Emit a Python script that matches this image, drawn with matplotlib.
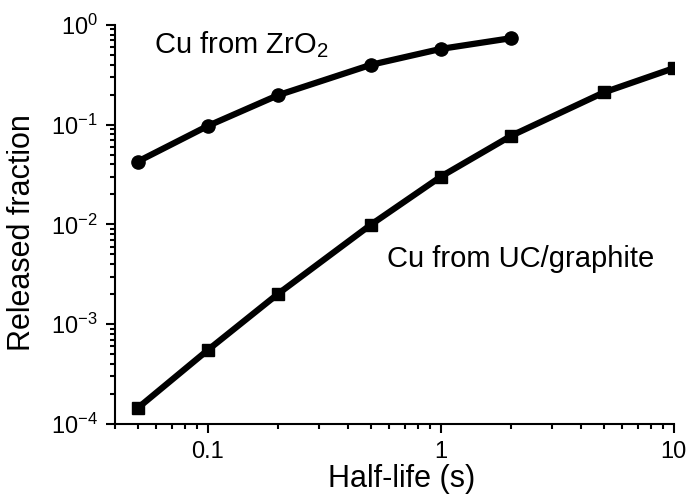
import matplotlib
matplotlib.use("Agg")
from matplotlib import pyplot as plt
from matplotlib.ticker import LogLocator, FixedLocator, NullFormatter

plt.rcParams['font.family'] = ['Liberation Sans', 'DejaVu Sans']
plt.rcParams['mathtext.default'] = 'regular'

# half-lives (s) and released fractions
half_life_zro2 = [0.05, 0.1, 0.2, 0.5, 1, 2]
released_zro2 = [0.0426, 0.097, 0.197, 0.397, 0.574, 0.735]

half_life_uc = [0.05, 0.1, 0.2, 0.5, 1, 2, 5, 10]
released_uc = [1.44e-4, 5.5e-4, 2.01e-3, 9.9e-3, 0.0301, 0.0771, 0.21, 0.368]

x_ticks = [0.1, 1, 10]
x_tick_labels = ['0.1', '1', '10']
y_ticks = [1e-4, 1e-3, 1e-2, 1e-1, 1e0]
y_tick_labels = ['$10^{-4}$', '$10^{-3}$', '$10^{-2}$', '$10^{-1}$', '$10^{0}$']

fig = plt.figure(figsize=(6.89, 4.97), dpi=100)
ax = fig.add_axes([0.167, 0.147, 0.811, 0.803])

ax.plot(half_life_zro2, released_zro2, color='black', lw=4.5,
        marker='o', markersize=9.5, solid_capstyle='butt')
ax.plot(half_life_uc, released_uc, color='black', lw=4.5,
        marker='s', markersize=9, solid_capstyle='butt')

ax.set_xscale('log')
ax.set_yscale('log')
ax.set_xlim(0.04, 10)
ax.set_ylim(1e-4, 1)

ax.set_xticks(x_ticks)
ax.set_xticklabels(x_tick_labels)
ax.set_yticks(y_ticks)
ax.set_yticklabels(y_tick_labels)
ax.xaxis.set_minor_locator(FixedLocator(
    [0.04, 0.05, 0.06, 0.07, 0.08, 0.09] + [k * 0.1 for k in range(2, 10)] + list(range(2, 10))))
ax.yaxis.set_minor_locator(LogLocator(base=10, subs=range(2, 10)))
ax.xaxis.set_minor_formatter(NullFormatter())
ax.yaxis.set_minor_formatter(NullFormatter())

for side in ['top', 'right']:
    ax.spines[side].set_visible(False)
for side in ['left', 'bottom']:
    ax.spines[side].set_linewidth(1.5)

ax.tick_params(which='major', direction='out', length=6.5, width=1.5, labelsize=17, pad=6)
ax.tick_params(which='minor', direction='out', length=3.5, width=1.5)

ax.set_xlabel('Half-life (s)', fontsize=22)
ax.set_ylabel('Released fraction', fontsize=22)
ax.xaxis.set_label_coords(0.512, -0.1)
ax.yaxis.set_label_coords(-0.14, 0.479)

ax.text(0.139, 0.524, 'Cu from ZrO$_2$', fontsize=21, ha='center', va='baseline')
ax.text(2.21, 0.00375, 'Cu from UC/graphite', fontsize=21, ha='center', va='baseline')

fig.savefig('out.png', dpi=100)
